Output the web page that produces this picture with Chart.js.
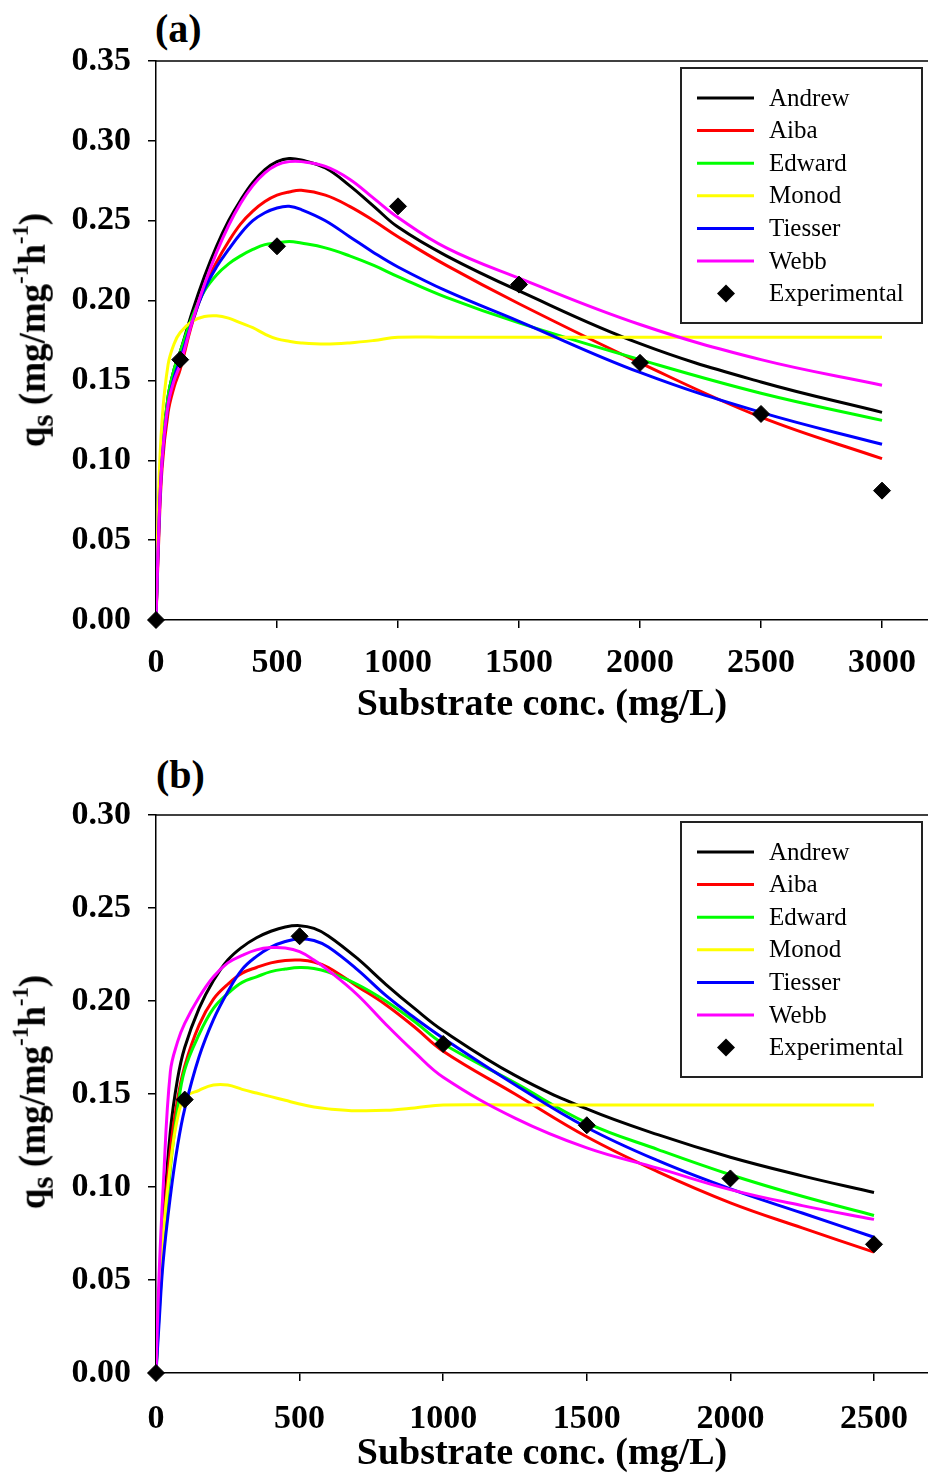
<!DOCTYPE html>
<html>
<head>
<meta charset="utf-8">
<script src="https://cdn.jsdelivr.net/npm/chart.js@4.4.0/dist/chart.umd.min.js"></script>
<style>
    body { margin: 0; background: #fff; width: 928px; height: 1477px; position: relative; overflow: hidden;
           font-family: "Liberation Serif", "Times New Roman", serif; color: #000; }
    canvas { position: absolute; left: 0; }
    .ytitle { position: absolute; font-weight: bold; font-size: 37px; white-space: nowrap; line-height: 1;
              transform: translate(-50%, -50%) rotate(-90deg); }
    .ytitle sub { font-size: 85%; vertical-align: -0.25em; }
    .ytitle sup { font-size: 62%; vertical-align: 0.75em; }
    .tag { position: absolute; font-weight: bold; font-size: 40px; line-height: 40px; }
</style>
</head>
<body>
<div class="tag" style="left:155px; top:9px;">(a)</div>
<div class="tag" style="left:156px; top:755px;">(b)</div>
<canvas id="chartA" width="928" height="740" style="top:0;"></canvas>
<canvas id="chartB" width="928" height="737" style="top:740px;"></canvas>
<div class="ytitle" style="left:34px; top:330px;">q<sub>s</sub> (mg/mg<sup>-1</sup>h<sup>-1</sup>)</div>
<div class="ytitle" style="left:34px; top:1092px;">q<sub>s</sub> (mg/mg<sup>-1</sup>h<sup>-1</sup>)</div>

<script>
// ---- panel (a) data ----
const xTicksA = [0, 500, 1000, 1500, 2000, 2500, 3000];
const yTicksA = [0, 0.05, 0.10, 0.15, 0.20, 0.25, 0.30, 0.35];
const xCurveA  = [0, 10, 25, 50, 75, 100, 150, 200, 250, 300, 350, 400, 450, 500, 550, 600, 700, 800, 900, 1000, 1200, 1500, 2000, 2500, 3000];
const andrewA  = [0, 0.055, 0.105, 0.140, 0.157, 0.168, 0.193, 0.215, 0.234, 0.250, 0.263, 0.274, 0.282, 0.287, 0.289, 0.288, 0.283, 0.272, 0.259, 0.246, 0.228, 0.206, 0.173, 0.149, 0.130];
const aibaA    = [0, 0.045, 0.095, 0.130, 0.146, 0.157, 0.186, 0.208, 0.224, 0.237, 0.248, 0.256, 0.262, 0.266, 0.268, 0.269, 0.266, 0.259, 0.250, 0.240, 0.222, 0.198, 0.161, 0.127, 0.101];
const edwardA  = [0, 0.055, 0.105, 0.140, 0.157, 0.168, 0.190, 0.206, 0.216, 0.223, 0.228, 0.232, 0.235, 0.236, 0.237, 0.236, 0.233, 0.228, 0.222, 0.215, 0.202, 0.186, 0.163, 0.142, 0.125];
const monodA   = [0, 0.075, 0.125, 0.160, 0.173, 0.180, 0.187, 0.190, 0.1905, 0.189, 0.186, 0.183, 0.179, 0.176, 0.1745, 0.1735, 0.1728, 0.1735, 0.175, 0.177, 0.177, 0.177, 0.177, 0.177, 0.177];
const tiesserA = [0, 0.050, 0.100, 0.135, 0.152, 0.163, 0.187, 0.207, 0.221, 0.232, 0.242, 0.250, 0.255, 0.258, 0.259, 0.257, 0.250, 0.240, 0.230, 0.221, 0.206, 0.187, 0.155, 0.130, 0.110];
const webbA    = [0, 0.050, 0.100, 0.135, 0.150, 0.160, 0.187, 0.210, 0.230, 0.247, 0.261, 0.272, 0.280, 0.285, 0.287, 0.287, 0.284, 0.276, 0.264, 0.252, 0.233, 0.214, 0.185, 0.163, 0.147];
const xExpA = [0, 100, 500, 1000, 1500, 2000, 2500, 3000];
const expA  = [0, 0.163, 0.234, 0.259, 0.210, 0.161, 0.129, 0.081];

// ---- panel (b) data ----
const xTicksB = [0, 500, 1000, 1500, 2000, 2500];
const yTicksB = [0, 0.05, 0.10, 0.15, 0.20, 0.25, 0.30];
const xCurveB  = [0, 10, 25, 50, 75, 100, 150, 200, 250, 300, 350, 400, 450, 500, 550, 600, 700, 800, 900, 1000, 1250, 1500, 1750, 2000, 2250, 2500];
const andrewB  = [0, 0.040, 0.080, 0.130, 0.158, 0.175, 0.196, 0.211, 0.222, 0.229, 0.234, 0.2375, 0.2398, 0.2405, 0.239, 0.235, 0.223, 0.209, 0.196, 0.184, 0.160, 0.142, 0.128, 0.116, 0.106, 0.097];
const aibaB    = [0, 0.035, 0.075, 0.120, 0.147, 0.165, 0.187, 0.201, 0.209, 0.215, 0.218, 0.2205, 0.2218, 0.222, 0.221, 0.218, 0.208, 0.198, 0.186, 0.173, 0.150, 0.127, 0.108, 0.0915, 0.078, 0.065];
const edwardB  = [0, 0.030, 0.065, 0.110, 0.142, 0.163, 0.182, 0.196, 0.204, 0.210, 0.213, 0.2158, 0.2172, 0.218, 0.2175, 0.2155, 0.209, 0.200, 0.189, 0.177, 0.156, 0.1345, 0.120, 0.1066, 0.095, 0.0847];
const monodB   = [0, 0.040, 0.075, 0.112, 0.137, 0.148, 0.152, 0.1548, 0.1548, 0.1525, 0.1505, 0.1486, 0.1466, 0.1446, 0.143, 0.142, 0.141, 0.1412, 0.1425, 0.1441, 0.1441, 0.1441, 0.1441, 0.1441, 0.1441, 0.1441];
const tiesserB = [0, 0.025, 0.060, 0.095, 0.122, 0.142, 0.170, 0.190, 0.205, 0.217, 0.224, 0.229, 0.232, 0.2335, 0.2325, 0.229, 0.217, 0.203, 0.191, 0.180, 0.155, 0.132, 0.114, 0.099, 0.086, 0.073];
const webbB    = [0, 0.050, 0.100, 0.162, 0.178, 0.188, 0.202, 0.213, 0.2205, 0.2245, 0.2275, 0.2287, 0.2285, 0.2265, 0.222, 0.2165, 0.2035, 0.1875, 0.1725, 0.159, 0.137, 0.121, 0.110, 0.0986, 0.090, 0.0826];
const xExpB = [0, 100, 500, 1000, 1500, 2000, 2500];
const expB  = [0, 0.147, 0.2348, 0.1769, 0.1332, 0.1046, 0.0692];

const seriesNames = ['Andrew', 'Aiba', 'Edward', 'Monod', 'Tiesser', 'Webb'];
const seriesColors = ['#000000', '#ff0000', '#00ff00', '#ffff00', '#0000ff', '#ff00ff'];
const FONT = '"Liberation Serif", "Times New Roman", serif';

function toPoints(xs, ys) {
    return xs.map((x, i) => ({ x: x, y: ys[i] }));
}

function buildDatasets(xCurve, curves, xExp, exp) {
    const sets = curves.map((ys, i) => ({
        label: seriesNames[i],
        data: toPoints(xCurve, ys),
        borderColor: seriesColors[i],
        backgroundColor: seriesColors[i],
        borderWidth: 3,
        pointRadius: 0,
        tension: 0.4,
        order: 10 - i
    }));
    sets.push({
        label: 'Experimental',
        data: toPoints(xExp, exp),
        showLine: false,
        pointStyle: 'rectRot',
        pointRadius: 8.5,
        backgroundColor: '#000',
        borderColor: '#000',
        borderWidth: 1,
        clip: false,
        order: 0
    });
    return sets;
}

// top frame line and boxed legend inside the plot
const framePlugin = {
    id: 'frameLegend',
    afterDraw(chart) {
        const { ctx, chartArea: a } = chart;
        ctx.save();
        ctx.strokeStyle = '#000';
        ctx.lineWidth = 1.5;
        ctx.beginPath();
        ctx.moveTo(a.left, a.top);
        ctx.lineTo(a.right, a.top);
        ctx.stroke();

        const bx = a.left + 525, by = a.top + 7, bw = 241, bh = 255;
        ctx.fillStyle = '#fff';
        ctx.fillRect(bx, by, bw, bh);
        ctx.strokeStyle = '#222';
        ctx.lineWidth = 2;
        ctx.strokeRect(bx, by, bw, bh);

        ctx.font = '25px ' + FONT;
        ctx.textBaseline = 'middle';
        ctx.textAlign = 'left';
        chart.data.datasets.forEach((ds, i) => {
            const y = by + 30 + i * 32.6;
            if (ds.showLine === false) {
                const cx = bx + 45;
                ctx.fillStyle = '#000';
                ctx.beginPath();
                ctx.moveTo(cx, y - 9);
                ctx.lineTo(cx + 9, y);
                ctx.lineTo(cx, y + 9);
                ctx.lineTo(cx - 9, y);
                ctx.closePath();
                ctx.fill();
            } else {
                ctx.strokeStyle = ds.borderColor;
                ctx.lineWidth = 3;
                ctx.beginPath();
                ctx.moveTo(bx + 16, y);
                ctx.lineTo(bx + 73, y);
                ctx.stroke();
            }
            ctx.fillStyle = '#000';
            ctx.fillText(ds.label, bx + 88, y + 1);
        });
        ctx.restore();
    }
};

function makeChart(id, opts) {
    const tickFont = { family: FONT, size: 34, weight: 'bold' };
    return new Chart(document.getElementById(id), {
        type: 'line',
        data: { datasets: opts.datasets },
        options: {
            responsive: false,
            animation: false,
            events: [],
            layout: { autoPadding: false, padding: { top: opts.top, left: 0, right: 0, bottom: 0 } },
            plugins: { legend: { display: false }, tooltip: { enabled: false } },
            scales: {
                x: {
                    type: 'linear',
                    min: 0,
                    max: opts.xMax,
                    afterFit: (s) => { s.height = opts.xHeight; s.paddingLeft = 0; s.paddingRight = 0; },
                    afterBuildTicks: (s) => { s.ticks = opts.xTicks.map(v => ({ value: v })); },
                    ticks: { autoSkip: false, maxRotation: 0, color: '#000', font: tickFont,
                             padding: opts.xPad, callback: (v) => String(v) },
                    grid: { drawOnChartArea: false, drawTicks: true, tickLength: 8, color: '#000', lineWidth: 1.5 },
                    border: { color: '#000', width: 1.5 },
                    title: { display: true, text: 'Substrate conc. (mg/L)', color: '#000',
                             font: { family: FONT, size: 38, weight: 'bold' },
                             padding: { top: 0, bottom: opts.titlePad } }
                },
                y: {
                    min: 0,
                    max: opts.yMax,
                    afterFit: (s) => { s.width = 156; s.paddingTop = 0; s.paddingBottom = 0; },
                    afterBuildTicks: (s) => { s.ticks = opts.yTicks.map(v => ({ value: v })); },
                    ticks: { color: '#000', font: tickFont, padding: 17,
                             callback: (v) => v.toFixed(2) },
                    grid: { drawOnChartArea: false, drawTicks: true, tickLength: 8, color: '#000', lineWidth: 1.5 },
                    border: { color: '#000', width: 1.5 }
                }
            }
        },
        plugins: [framePlugin]
    });
}

makeChart('chartA', {
    datasets: buildDatasets(xCurveA, [andrewA, aibaA, edwardA, monodA, tiesserA, webbA], xExpA, expA),
    xTicks: xTicksA, yTicks: yTicksA,
    top: 61, xHeight: 120, xMax: 3190, yMax: 0.35, xPad: 15, titlePad: 12
});

makeChart('chartB', {
    datasets: buildDatasets(xCurveB, [andrewB, aibaB, edwardB, monodB, tiesserB, webbB], xExpB, expB),
    xTicks: xTicksB, yTicks: yTicksB,
    top: 75, xHeight: 104, xMax: 2688, yMax: 0.30, xPad: 18, titlePad: 0
});
</script>
</body>
</html>
